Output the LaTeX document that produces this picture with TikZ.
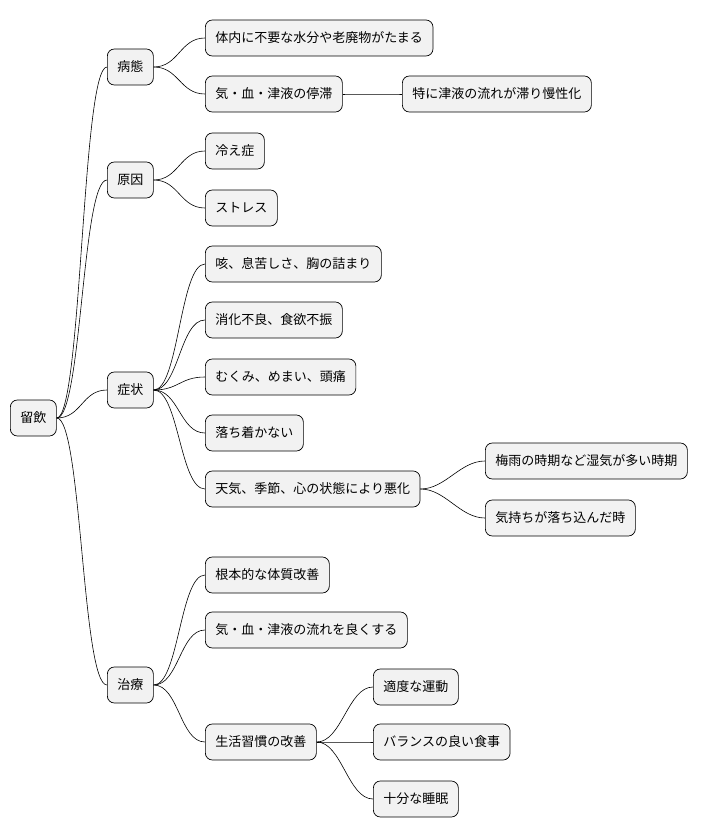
\documentclass[tikz,border=0pt]{standalone}
\usepackage{fontspec}
\newfontfamily\cjk{Noto Sans CJK JP}
\begin{document}
\begin{tikzpicture}[x=1pt,y=-1pt,
  box/.style={draw=black,fill=black!5,rounded corners=7pt,minimum height=36pt,inner xsep=10pt,anchor=west,font=\cjk\fontsize{13}{15}\selectfont,line width=0.7pt},
  con/.style={line width=0.6pt}]
\useasboundingbox (0,0) rectangle (712,837);
\node[box] (r) at (10,418) {留飲};
\node[box] (a) at (107,67) {病態};
\node[box] (a1) at (205,38) {体内に不要な水分や老廃物がたまる};
\node[box] (a2) at (205,94) {気・血・津液の停滞};
\node[box] (a21) at (402,94) {特に津液の流れが滞り慢性化};
\node[box] (b) at (107,180) {原因};
\node[box] (b1) at (205,151) {冷え症};
\node[box] (b2) at (205,208) {ストレス};
\node[box] (c) at (107,390) {症状};
\node[box] (c1) at (205,264) {咳、息苦しさ、胸の詰まり};
\node[box] (c2) at (205,320) {消化不良、食欲不振};
\node[box] (c3) at (205,377) {むくみ、めまい、頭痛};
\node[box] (c4) at (205,433) {落ち着かない};
\node[box] (c5) at (205,489) {天気、季節、心の状態により悪化};
\node[box] (c51) at (485,461) {梅雨の時期など湿気が多い時期};
\node[box] (c52) at (485,518) {気持ちが落ち込んだ時};
\node[box] (d) at (107,685) {治療};
\node[box] (d1) at (205,575) {根本的な体質改善};
\node[box] (d2) at (205,630) {気・血・津液の流れを良くする};
\node[box] (d3) at (205,742) {生活習慣の改善};
\node[box] (d31) at (373,687) {適度な運動};
\node[box] (d32) at (373,742) {バランスの良い食事};
\node[box] (d33) at (373,799) {十分な睡眠};
\foreach \p/\c in {r/a,r/b,r/c,r/d,a/a1,a/a2,a2/a21,b/b1,b/b2,c/c1,c/c2,c/c3,c/c4,c/c5,c5/c51,c5/c52,d/d1,d/d2,d/d3,d3/d31,d3/d32,d3/d33}
  \draw[con] (\p.east) .. controls +(25,0) and +(-25,0) .. (\c.west);
\end{tikzpicture}
\end{document}
